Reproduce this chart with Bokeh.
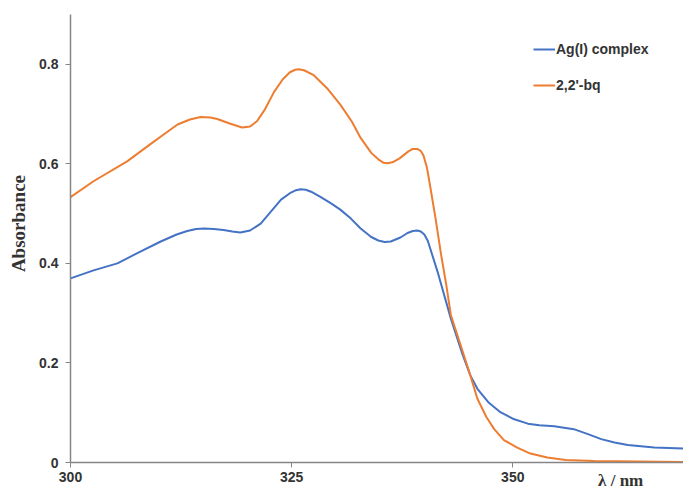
from bokeh.plotting import figure
from bokeh.models import Range1d, Legend, LegendItem, FixedTicker, LinearAxis
from bokeh.embed import file_html
from bokeh.resources import INLINE

# ---- data ----
wl_ag = [300.0, 302.6, 305.3, 307.5, 310.2, 312.0, 313.2, 314.2, 315.1, 316.2,
         317.3, 318.3, 319.2, 320.3, 321.5, 322.7, 323.8, 324.8, 325.5, 326.0,
         326.6, 327.2, 328.3, 329.5, 330.5, 331.7, 332.8, 334.0, 334.8, 335.5,
         336.2, 337.3, 338.1, 338.7, 339.2, 339.6, 340.0, 340.4, 340.7, 341.5,
         342.3, 343.0, 344.3, 345.2, 346.0, 347.3, 348.6, 350.0, 351.7, 353.0,
         354.7, 356.9, 358.5, 360.0, 361.5, 363.0, 366.0, 369.3]
abs_ag = [0.370, 0.386, 0.400, 0.420, 0.444, 0.458, 0.465, 0.469, 0.470, 0.469,
          0.467, 0.464, 0.462, 0.466, 0.480, 0.505, 0.528, 0.541, 0.547, 0.549,
          0.548, 0.544, 0.533, 0.520, 0.508, 0.490, 0.470, 0.453, 0.446, 0.443,
          0.444, 0.452, 0.461, 0.465, 0.466, 0.464, 0.458, 0.445, 0.428, 0.383,
          0.333, 0.289, 0.218, 0.175, 0.148, 0.120, 0.101, 0.088, 0.078, 0.075,
          0.073, 0.067, 0.057, 0.047, 0.040, 0.035, 0.030, 0.028]

wl_bq = [300.0, 302.6, 306.4, 309.0, 311.0, 312.1, 313.5, 314.7, 315.8, 316.6,
         318.0, 319.4, 320.3, 321.1, 322.0, 323.0, 324.0, 324.8, 325.4, 325.8,
         326.4, 327.5, 329.0, 330.5, 331.8, 332.8, 334.0, 334.8, 335.4, 335.8,
         336.4, 337.2, 338.2, 338.7, 339.2, 339.6, 339.9, 340.3, 340.7, 341.3,
         341.9, 342.5, 343.0, 344.3, 345.2, 346.0, 347.0, 347.9, 349.0, 350.5,
         352.0, 353.9, 356.0, 359.2, 369.3]
abs_bq = [0.533, 0.565, 0.605, 0.639, 0.665, 0.679, 0.689, 0.694, 0.693, 0.690,
          0.681, 0.673, 0.675, 0.686, 0.710, 0.744, 0.770, 0.784, 0.789, 0.790,
          0.788, 0.778, 0.752, 0.719, 0.685, 0.652, 0.622, 0.609, 0.602, 0.601,
          0.603, 0.611, 0.625, 0.630, 0.630, 0.626, 0.617, 0.592, 0.551, 0.487,
          0.417, 0.355, 0.296, 0.225, 0.175, 0.128, 0.092, 0.067, 0.045, 0.030,
          0.018, 0.010, 0.005, 0.003, 0.001]

series_labels = ["Ag(I) complex", "2,2'-bq"]
x_ticks = [300, 325, 350]
y_ticks = [0, 0.2, 0.4, 0.6, 0.8]
x_title = "λ / nm"
y_title = "Absorbance"
x_title_pos = 362.2   # where the x title sits along the axis
y_title_pos = 0.48    # where the y title sits along the axis

BLUE = "#4472C4"
ORANGE = "#ED7D31"
AXIS_COL = "#868686"
TXT = "#333333"

p = figure(width=683, height=492, output_backend="svg", toolbar_location=None,
           x_range=Range1d(300, 369.3), y_range=Range1d(0, 0.9),
           min_border_left=70, min_border_right=0, min_border_top=14,
           min_border_bottom=0)
p.outline_line_color = None
p.xgrid.visible = False
p.ygrid.visible = False

r_ag = p.line(wl_ag, abs_ag, line_color=BLUE, line_width=2)
r_bq = p.line(wl_bq, abs_bq, line_color=ORANGE, line_width=2)

for ax in (p.xaxis[0], p.yaxis[0]):
    ax.axis_line_color = AXIS_COL
    ax.axis_line_width = 1.5
    ax.major_tick_line_color = AXIS_COL
    ax.major_tick_line_width = 1
    ax.major_tick_in = 0
    ax.major_tick_out = 5
    ax.minor_tick_line_color = None
    ax.major_label_text_font = "Liberation Sans"
    ax.major_label_text_font_style = "bold"
    ax.major_label_text_font_size = "14px"
    ax.major_label_text_color = TXT

p.xaxis[0].ticker = FixedTicker(ticks=x_ticks)
p.yaxis[0].ticker = FixedTicker(ticks=y_ticks)
p.xaxis[0].major_label_standoff = 4
p.yaxis[0].major_label_standoff = 7
p.yaxis[0].major_label_overrides = {0: "0"}

# axis titles placed off-centre, as in the reference
def title_axis(pos, text, size, standoff, orientation="horizontal"):
    a = LinearAxis(ticker=FixedTicker(ticks=[pos]),
                   major_label_overrides={pos: text})
    a.axis_line_color = None
    a.major_tick_line_color = None
    a.minor_tick_line_color = None
    a.major_tick_in = 0
    a.major_tick_out = 0
    a.major_label_standoff = standoff
    a.major_label_orientation = orientation
    a.major_label_text_font = "Liberation Serif"
    a.major_label_text_font_style = "bold"
    a.major_label_text_font_size = size
    a.major_label_text_color = TXT
    return a

p.add_layout(title_axis(x_title_pos, x_title, "17px", -14), "below")
p.add_layout(title_axis(y_title_pos, y_title, "19px", 7, "vertical"), "left")

legend = Legend(items=[LegendItem(label=series_labels[0], renderers=[r_ag]),
                       LegendItem(label=series_labels[1], renderers=[r_bq])],
                location=(463, 367), padding=0, margin=0, spacing=16,
                glyph_width=22, glyph_height=20, label_height=20,
                label_standoff=1, border_line_color=None,
                background_fill_alpha=0)
legend.label_text_font = "Liberation Sans"
legend.label_text_font_style = "bold"
legend.label_text_font_size = "14px"
legend.label_text_color = TXT
p.add_layout(legend)

open("out.html", "w").write(file_html(p, INLINE))
